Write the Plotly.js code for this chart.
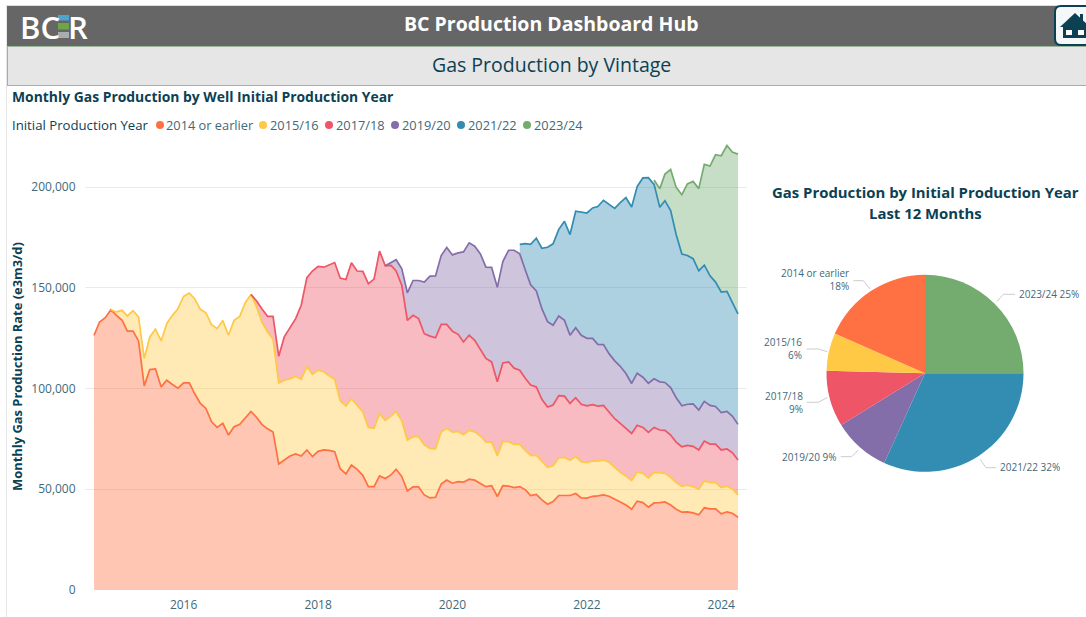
<!DOCTYPE html>
<html>
<head>
<meta charset="utf-8">
<script src="https://cdn.plot.ly/plotly-3.0.1.min.js"></script>
<style>html,body{margin:0;padding:0;background:#fff;overflow:hidden}#chart{width:1086px;height:617px}</style>
</head>
<body>
<div id="chart"></div>
<script>
const seriesNames = ['2014 or earlier','2015/16','2017/18','2019/20','2021/22','2023/24'];
const seriesColors = ['#FF7043','#FFC845','#EE5566','#846EAA','#338CB2','#74AC70'];
const N = null;
// Top edge of each stacked band, thousand e3m3/d, monthly from Sep 2014
const top2014 = [126.4,133,135.1,139.1,136.3,133.8,128.5,128.5,123.6,101.3,109.4,109.7,100.8,104.1,102,100.2,102.8,102.8,97.5,92.6,90.1,83.5,80.7,82.7,76.9,81,82.2,85.1,88.6,85.6,82.2,80,78.4,62.5,64.5,66.5,67.5,66.5,69.5,66.2,68.8,69.5,69.3,68.6,60.2,57.6,62,59.9,56.9,51.3,51.3,56.6,55.3,57.1,59.9,56.3,49.2,51.2,51.2,47.2,45.7,46,52.6,54.6,53,53.8,53.5,55,54.5,53,51.3,51.8,46.4,51.8,51.6,50.8,51.3,49.7,46.9,47.4,44.7,42.6,43.9,46.9,47,46.9,47.9,45.7,45.6,46.5,46.7,47.2,46.5,45.2,43.7,42.2,40.1,44.1,43.4,41.1,43.2,43.4,43.7,42.2,40.1,38.6,38.8,38.3,37.3,40.8,40.3,40.3,37.8,38.8,38.1,36.1];
const top2015 = [N,N,N,139.1,138,138.8,136,138.6,135.5,114.9,125.6,129.5,123.6,132.2,136.3,139.6,145.7,147.4,144.6,139.3,137.6,131.7,129.7,133.7,126.4,133.8,135.8,142.6,146.7,140.4,133,128,124.4,102.8,104.1,104.8,106.1,104.6,111,107.1,109.1,108.3,106.3,104.6,93.9,91.3,94.9,91.7,88.3,80.7,80.2,87.5,84.2,86.3,88.6,83.8,74.4,76.1,76.1,72,70.3,70.1,78.5,80.2,78.4,78.7,77.1,79.2,78.5,76.4,73.4,73.4,66.7,73.6,73.6,72.3,72.3,69.2,66.8,66.8,63.7,60.9,61.7,65.5,65.8,64.4,66.2,63.7,63.2,64,64,64.5,63.4,60.9,58.4,56.6,54.3,58.6,57.9,55.6,58.4,58.2,57.9,55.9,53.3,51.5,52,51.2,50,54.1,53.3,53.3,50.8,51.5,50.2,47.2];
const top2017 = [N,N,N,N,N,N,N,N,N,N,N,N,N,N,N,N,N,N,N,N,N,N,N,N,N,N,N,N,146.7,143.4,139.6,135.8,135.8,116,125.6,130.5,134.7,141.3,155,158.3,160.6,160.2,161.4,162.5,154.8,154.1,162.4,158.3,158.1,152,154.3,168.2,160.9,161.1,158.3,151.2,133.8,136.3,134.7,127.2,126,125.2,131.8,131.8,128.4,126.9,123.1,126.4,123.9,119.3,114.9,113.2,103.3,112.7,113.2,110.1,109.1,105,101.7,100.8,94.6,90.8,91.8,96.5,96.2,92.6,95.4,92.2,91.4,92,91.3,91.6,88.5,85,82.7,80.2,77.7,81.8,80.7,78.2,80.7,79.4,79.2,76.9,73.4,71.1,71.8,71.3,69.5,73.9,72.4,72.4,69.5,70,68.2,64.5];
const top2019 = [N,N,N,N,N,N,N,N,N,N,N,N,N,N,N,N,N,N,N,N,N,N,N,N,N,N,N,N,N,N,N,N,N,N,N,N,N,N,N,N,N,N,N,N,N,N,N,N,N,N,N,N,160.9,162.4,163.9,159.4,147.5,153.6,153.6,152.8,155.8,155.9,166,170,166.3,167.3,167.8,172.3,170.6,166.8,160.2,160.1,150.2,163,168.6,168.6,166.8,158.6,151.5,148.4,139.6,133.2,131.4,136,133.8,126.4,130.2,126.4,124.9,124.9,121.9,121.8,117.3,113.7,111,107.4,102.5,107.6,105.6,102.6,104.8,103.3,103,100.5,95.4,91.4,92.2,92.4,89.3,93.6,91.6,91.1,88.1,88.6,86.3,82.2];
const top2021 = [N,N,N,N,N,N,N,N,N,N,N,N,N,N,N,N,N,N,N,N,N,N,N,N,N,N,N,N,N,N,N,N,N,N,N,N,N,N,N,N,N,N,N,N,N,N,N,N,N,N,N,N,N,N,N,N,N,N,N,N,N,N,N,N,N,N,N,N,N,N,N,N,N,N,N,N,171.5,171.9,171.5,174.6,169.6,170.1,171.8,179,183,176.4,188,187.5,187.1,189.6,190.3,193.4,191.6,189.4,192.2,194.7,190.1,200.2,204.5,204.6,201.3,189.9,193.2,188.3,176.4,166.7,166,164.4,158.4,161.2,155.9,152.8,147.9,148.2,142.7,137];
const top2023 = [N,N,N,N,N,N,N,N,N,N,N,N,N,N,N,N,N,N,N,N,N,N,N,N,N,N,N,N,N,N,N,N,N,N,N,N,N,N,N,N,N,N,N,N,N,N,N,N,N,N,N,N,N,N,N,N,N,N,N,N,N,N,N,N,N,N,N,N,N,N,N,N,N,N,N,N,N,N,N,N,N,N,N,N,N,N,N,N,N,N,N,N,N,N,N,N,N,N,N,N,203.5,199.2,206.4,208.7,199.8,196.2,201.5,202.8,199.2,211.2,210.4,216,215.5,220.6,217.3,216.3];
const yTickVals = [0,50000,100000,150000,200000];
const xTickVals = ['2016-01-01','2018-01-01','2020-01-01','2022-01-01','2024-01-01'];
const xTickText = ['2016','2018','2020','2022','2024'];
// Pie, clockwise from 12 o'clock
const pieNames = ['2023/24','2021/22','2019/20','2017/18','2015/16','2014 or earlier'];
const pieValues = [25,31.8,9.4,9.2,6.2,18.4];
const pieColors = ['#74AC70','#338CB2','#846EAA','#EE5566','#FFC845','#FF7043'];

const W = 1086, H = 617;
const px = x => x / W, py = y => 1 - y / H;
const FONT = '"Open Sans", sans-serif';
const TEAL = '#0B4153', SOFT = '#41697A';

const dates = top2014.map((_, i) => {
  const m = 8 + i, y = 2014 + Math.floor(m / 12);
  return y + '-' + String(m % 12 + 1).padStart(2, '0') + '-01';
});
const tops = [top2014, top2015, top2017, top2019, top2021, top2023];
const rgba = (hex, a) => 'rgba(' + [1,3,5].map(k => parseInt(hex.substr(k,2),16)).join(',') + ',' + a + ')';

const traces = [];
tops.forEach((arr, s) => {
  const idx = arr.map((v, i) => v === null ? -1 : i).filter(i => i >= 0);
  const lower = s === 0 ? idx.map(() => 0) : idx.map(i => tops[s-1][i]);
  traces.push({
    type: 'scatter', mode: 'none', fill: 'toself', fillcolor: rgba(seriesColors[s], 0.4),
    x: idx.map(i => dates[i]).concat(idx.map(i => dates[i]).reverse()),
    y: idx.map(i => arr[i] * 1000).concat(lower.map(v => v * 1000).reverse()),
    hoverinfo: 'skip', showlegend: false, xaxis: 'x', yaxis: 'y'
  });
});
tops.forEach((arr, s) => {
  traces.push({
    type: 'scatter', mode: 'lines', name: seriesNames[s],
    x: dates, y: arr.map(v => v === null ? null : v * 1000),
    line: { color: seriesColors[s], width: 1.7 }, showlegend: false, xaxis: 'x', yaxis: 'y'
  });
});
traces.push({
  type: 'pie', labels: pieNames, values: pieValues, sort: false, direction: 'clockwise', rotation: 0,
  marker: { colors: pieColors, line: { width: 0 } }, textinfo: 'none', showlegend: false,
  domain: { x: [px(925-98.5), px(925+98.5)], y: [py(373.3+98.5), py(373.3-98.5)] }
});

const note = (text, x, y, o) => Object.assign({
  text, x: px(x), y: py(y), xref: 'paper', yref: 'paper', showarrow: false,
  xanchor: 'left', yanchor: 'middle', borderpad: 0,
  font: { family: FONT, size: 13, color: TEAL }
}, o || {});
const rect = (x0, y0, x1, y1, fill, line, layer) => ({
  type: 'rect', xref: 'paper', yref: 'paper', x0: px(x0), x1: px(x1), y0: py(y0), y1: py(y1),
  fillcolor: fill, line: line || { width: 0 }, layer: layer || 'below'
});
const pathOf = pts => pts.map((p, i) => (i ? 'L' : 'M') + px(p[0]) + ',' + py(p[1])).join(' ');
const poly = (pts, color, width, fill) => ({
  type: 'path', xref: 'paper', yref: 'paper', path: pathOf(pts) + (fill ? ' Z' : ''),
  fillcolor: fill || 'rgba(0,0,0,0)', line: { color: color || 'rgba(0,0,0,0)', width: width || 0 }, layer: 'above'
});

const shapes = [
  rect(0, 0, 1086, 617, '#FFFFFF'),
  rect(6, 5, 1086, 6, '#DDDDDD'),
  rect(6, 5, 7, 617, '#E6E6E6'),
  rect(7, 6, 1086, 46, '#666666'),
  rect(7, 46, 1086, 85, '#E6E6E6'),
  rect(7, 46, 1086, 47, '#9DB59D'),
  rect(7, 85, 1086, 86, '#9DB59D'),
  rect(7, 46, 8, 86, '#9DB59D'),
  // logo bars
  rect(58, 15, 69, 20.5, '#4FA3CF', null, 'above'),
  rect(58, 23, 69, 29.5, '#6FA543', null, 'above'),
  rect(58, 32, 69, 38, '#A9ADB0', null, 'above'),
  // home button
  {type:'path', xref:'paper', yref:'paper', layer:'above', fillcolor:'#F4F8F8', line:{color:TEAL,width:2},
   path: 'M'+px(1090)+','+py(6)+' L'+px(1061)+','+py(6)+' Q'+px(1055)+','+py(6)+' '+px(1055)+','+py(12)+' L'+px(1055)+','+py(39)+' Q'+px(1055)+','+py(45)+' '+px(1061)+','+py(45)+' L'+px(1090)+','+py(45)},
  poly([[1080,14],[1083,14],[1083,21],[1080,21]], null, 0, TEAL),
  poly([[1060,27],[1075,13],[1090,27]], null, 0, TEAL),
  poly([[1063,26],[1087,26],[1087,38],[1063,38]], null, 0, TEAL),
  poly([[1066,30],[1072,30],[1072,35],[1066,35]], null, 0, '#FFFFFF'),
  poly([[1078,30],[1084,30],[1084,35],[1078,35]], null, 0, '#FFFFFF'),
  // pie leader lines
  poly([[996.7,301.7],[1003.3,294.3],[1015,294.3]], '#CCCCCC', 1),
  poly([[980,459.3],[986,467.7],[996,467.7]], '#CCCCCC', 1),
  poly([[858.3,450],[851.7,456.7],[840.7,456.7]], '#CCCCCC', 1),
  poly([[827.3,397.5],[818.3,402.3],[806.7,402.3]], '#CCCCCC', 1),
  poly([[827.3,351.7],[818.3,349],[806.7,349]], '#CCCCCC', 1),
  poly([[870,289],[863.3,280.7],[853.3,280.7]], '#CCCCCC', 1)
];

const legendDots = [160,263,329,395,461,527];
const legendText = [165,269,335,401,467,533];
legendDots.forEach((x, i) => shapes.push({
  type:'circle', xref:'paper', yref:'paper', layer:'above', fillcolor: seriesColors[i], line:{width:0},
  x0: px(x-4), x1: px(x+4), y0: py(125+4), y1: py(125-4)
}));

const pieFont = { family: FONT, size: 10, color: SOFT };
const logoFont = { family: FONT, size: 31, weight: 600, color: '#FFFFFF' };
const annotations = [
  note('BC', 19, 26.5, { font: logoFont }),
  note('R', 67, 26.5, { font: logoFont }),
  note('<b>BC Production Dashboard Hub</b>', 551, 24, { xanchor:'center', font:{family:FONT,size:19.5,color:'#FFFFFF'} }),
  note('Gas Production by Vintage', 551, 65, { xanchor:'center', font:{family:FONT,size:19.5,color:TEAL} }),
  note('<b>Monthly Gas Production by Well Initial Production Year</b>', 11, 96.5, { font:{family:FONT,size:13.9,color:TEAL} }),
  note('Initial Production Year', 11, 125, { font:{family:FONT,size:13.2,color:TEAL} }),
  note('<b>Gas Production by Initial Production Year</b>', 925, 192, { xanchor:'center', font:{family:FONT,size:14.9,color:TEAL} }),
  note('<b>Last 12 Months</b>', 925, 213, { xanchor:'center', font:{family:FONT,size:14.9,color:TEAL} }),
  note('2023/24 25%', 1017.5, 294, { font: pieFont }),
  note('2021/22 32%', 999, 467, { font: pieFont }),
  note('2019/20 9%', 837.5, 456.5, { xanchor:'right', font: pieFont }),
  note('2017/18<br>9%', 804, 402, { xanchor:'right', align:'right', font: pieFont }),
  note('2015/16<br>6%', 803, 348.5, { xanchor:'right', align:'right', font: pieFont }),
  note('2014 or earlier<br>18%', 850, 279.5, { xanchor:'right', align:'right', font: pieFont })
];
seriesNames.forEach((n, i) => annotations.push(note(n, legendText[i], 125, { font:{family:FONT,size:12.8,color:SOFT} })));

const layout = {
  width: W, height: H, autosize: false, showlegend: false,
  paper_bgcolor: '#FFFFFF', plot_bgcolor: 'rgba(0,0,0,0)',
  margin: { l: 0, r: 0, t: 0, b: 0, pad: 0 },
  font: { family: FONT },
  xaxis: {
    domain: [px(85), px(747)], type: 'date', range: ['2014-07-14','2024-05-20'],
    tickmode: 'array', tickvals: xTickVals, ticktext: xTickText,
    showgrid: false, zeroline: false, showline: false,
    ticks: 'outside', ticklen: 4, tickcolor: 'rgba(0,0,0,0)',
    tickfont: { family: FONT, size: 12, color: SOFT }, anchor: 'y', fixedrange: true
  },
  yaxis: {
    domain: [py(590), py(143)], range: [0, (590-143)/2.015*1000],
    tickmode: 'array', tickvals: yTickVals, tickformat: ',d',
    showgrid: true, gridcolor: '#EAEAEA', gridwidth: 1, zeroline: false, showline: false,
    ticks: 'outside', ticklen: 6, tickcolor: 'rgba(0,0,0,0)',
    tickfont: { family: FONT, size: 12, color: SOFT }, anchor: 'x', fixedrange: true,
    title: { text: '<b>Monthly Gas Production Rate (e3m3/d)</b>', font: { family: FONT, size: 12.9, color: TEAL }, standoff: 5 }
  },
  shapes, annotations
};
Plotly.newPlot('chart', traces, layout, { displayModeBar: false, responsive: false });
</script>
</body>
</html>
